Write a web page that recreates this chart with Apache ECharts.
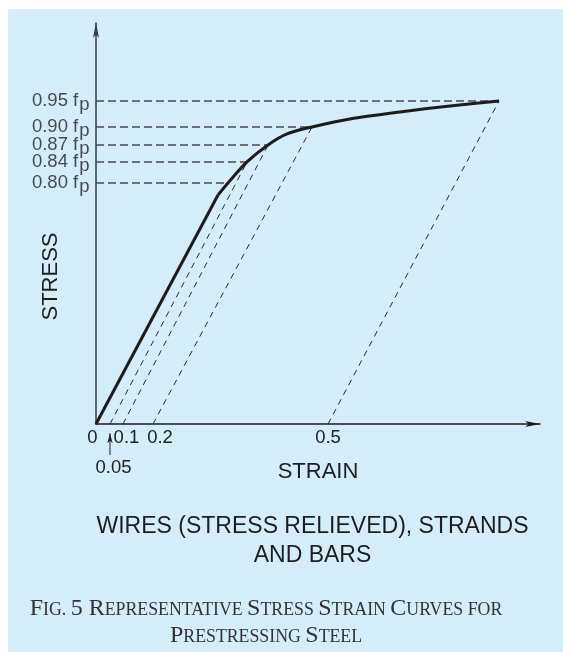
<!DOCTYPE html>
<html><head><meta charset="utf-8">
<script src="https://cdn.jsdelivr.net/npm/echarts@6/dist/echarts.min.js"></script>
<style>html,body{margin:0;padding:0;background:#fff}#c{width:563px;height:652px}</style>
</head><body><div id="c"></div>
<script>
// ---- data (schematic drawing units) ----
const strainLabels = ['0', '0.05', '0.1', '0.2', '0.5'];
const strainPos = [0, 0.0301, 0.0581, 0.1227, 0.4996];
const stressLabels = ['0.80', '0.84', '0.87', '0.90', '0.95'];
const stressPos = [0.7105, 0.7724, 0.8225, 0.8756, 0.9522];
const stressCurveStrain = [0.2842, 0.3251, 0.3704, 0.4651, 0.8678];
const elasticSegment = [[0, 0], [0.2627, 0.6751]];
const plasticCurve = [[0.2627, 0.6751], [0.2842, 0.7105], [0.3251, 0.7724], [0.3704, 0.8225],
  [0.4113, 0.8550], [0.4651, 0.8756], [0.5469, 0.8992], [0.6546, 0.9198], [0.7623, 0.9375], [0.8678, 0.9522]];
const unloadFromStrain = ['0.05', '0.1', '0.2', '0.5'];
const unloadToStress = ['0.84', '0.87', '0.90', '0.95'];
const xAxisName = 'STRAIN';
const yAxisName = 'STRESS';
const subtitleText = 'WIRES (STRESS RELIEVED), STRANDS\nAND BARS';
const captionText = '{b|F}{s|IG. }{b|5 R}{s|EPRESENTATIVE }{b|S}{s|TRESS }{b|S}{s|TRAIN }{b|C}{s|URVES FOR}\n{b|P}{s|RESTRESSING }{b|S}{s|TEEL}';

// ---- chart ----
const FONT = 'Liberation Sans, Arial, sans-serif';
const SERIF = 'Liberation Serif, Times New Roman, serif';
function nearestIdx(arr, v) {
  let best = 0;
  for (let i = 1; i < arr.length; i++) if (Math.abs(arr[i] - v) < Math.abs(arr[best] - v)) best = i;
  return best;
}
const LS = 18.5;
const series = [];
stressLabels.forEach((l, i) => {
  series.push({
    type: 'line', silent: true, symbol: 'none', z: 1,
    data: [[0, stressPos[i]], [stressCurveStrain[i], stressPos[i]]],
    lineStyle: { color: '#4a4a4a', width: 1.6, type: [8, 4] }
  });
});
unloadFromStrain.forEach((s, k) => {
  const xi = strainLabels.indexOf(s);
  const yi = stressLabels.indexOf(unloadToStress[k]);
  series.push({
    type: 'line', silent: true, symbol: 'none', z: 1,
    data: [[strainPos[xi], 0], [stressCurveStrain[yi], stressPos[yi]]],
    lineStyle: { color: '#2a2a2a', width: 1, type: [6, 5] }
  });
});
series.push({
  type: 'line', silent: true, symbol: 'none', z: 3, data: elasticSegment,
  lineStyle: { color: '#1c1c1c', width: 3 }
});
series.push({
  type: 'line', silent: true, symbol: 'none', z: 3, data: plasticCurve, smooth: 0.3,
  lineStyle: { color: '#1c1c1c', width: 3 }
});
// arrow pointing at the 0.05 offset
series.push({
  type: 'line', silent: true, clip: false, z: 3,
  data: [{ value: [strainPos[1], -0.0914], symbol: 'none' },
         { value: [strainPos[1], -0.027], symbol: 'arrow', symbolSize: [4, 10] }],
  showSymbol: true, showAllSymbol: true,
  itemStyle: { color: '#222' },
  lineStyle: { color: '#222', width: 1 }
});
// stress level labels (0.80 fp ... 0.95 fp) placed at the y-axis
series.push({
  type: 'scatter', silent: true, clip: false, z: 4,
  data: stressPos.map(p => [0, p]),
  symbolSize: 1, itemStyle: { color: 'rgba(0,0,0,0)' },
  label: {
    show: true, position: 'left', distance: 6,
    formatter: function (p) { const i = nearestIdx(stressPos, p.value[1]); return '{n|' + stressLabels[i] + ' f}{p|p}'; },
    rich: {
      n: { fontSize: LS, fontFamily: FONT, color: '#222', lineHeight: 16, padding: [4, 0, 4, 0] },
      p: { fontSize: LS, fontFamily: FONT, color: '#222', lineHeight: 16, padding: [8, 0, 0, 1] }
    }
  },
  labelLayout: { hideOverlap: false }
});

const xRich = {
  l0: { fontSize: LS, fontFamily: FONT, color: '#222', padding: [0, 7, 0, 0] },
  l1: { fontSize: LS, fontFamily: FONT, color: '#222', padding: [30, 0, 0, 7] },
  l2: { fontSize: LS, fontFamily: FONT, color: '#222', padding: [0, 0, 0, 7] },
  l3: { fontSize: LS, fontFamily: FONT, color: '#222', padding: [0, 0, 0, 14] },
  l4: { fontSize: LS, fontFamily: FONT, color: '#222', padding: [0, 0, 0, 0] }
};

const option = {
  animation: false,
  backgroundColor: '#ffffff',
  grid: { left: 96, right: 23, top: 23, bottom: 228, containLabel: false },
  xAxis: {
    type: 'value', min: 0, max: 0.956,
    name: xAxisName, nameLocation: 'middle', nameGap: 37, nameMoveOverlap: false,
    nameTextStyle: { fontSize: 22, fontFamily: FONT, color: '#1e1e1e' },
    axisLine: { show: true, symbol: ['none', 'arrow'], symbolSize: [4.5, 15], lineStyle: { color: '#1a1a1a', width: 1.5 } },
    axisTick: { show: false },
    splitLine: { show: false },
    axisLabel: {
      customValues: strainPos, margin: 4, showMinLabel: true, showMaxLabel: true, hideOverlap: false,
      formatter: function (v) { const i = nearestIdx(strainPos, v); return '{l' + i + '|' + strainLabels[i] + '}'; },
      rich: xRich
    }
  },
  yAxis: {
    type: 'value', min: 0, max: 1.182,
    name: yAxisName, nameLocation: 'middle', nameRotate: 90, nameGap: 34, nameMoveOverlap: false,
    nameTextStyle: { fontSize: 22, fontFamily: FONT, color: '#1e1e1e', padding: [0, 106, 0, 0] },
    axisLine: { show: true, symbol: ['none', 'arrow'], symbolSize: [4.5, 15], lineStyle: { color: '#3a3a3a', width: 1.5 } },
    axisTick: { show: false },
    splitLine: { show: false },
    axisLabel: { show: false }
  },
  graphic: [
    { type: 'rect', z: -100, silent: true, shape: { x: 8, y: 9, width: 555, height: 643 }, style: { fill: '#d5ecf9' } },
    { type: 'text', z: 10, silent: true, x: 312.5, y: 512.5,
      style: { text: subtitleText, fontSize: 23, fontFamily: FONT, lineHeight: 29, fill: '#1e1e1e', align: 'center', verticalAlign: 'top' } },
    { type: 'text', z: 10, silent: true, x: 266, y: 595.5,
      style: { text: captionText, align: 'center', verticalAlign: 'top', fill: '#333',
        rich: {
          b: { fontSize: 24, fontFamily: SERIF, fill: '#333', lineHeight: 27 },
          s: { fontSize: 17.8, fontFamily: SERIF, fill: '#333', lineHeight: 24, padding: [3, 0, 0, 0] }
        } } }
  ],
  series: series
};
const chart = echarts.init(document.getElementById('c'), null, { renderer: 'canvas' });
chart.setOption(option);
</script>
</body></html>
